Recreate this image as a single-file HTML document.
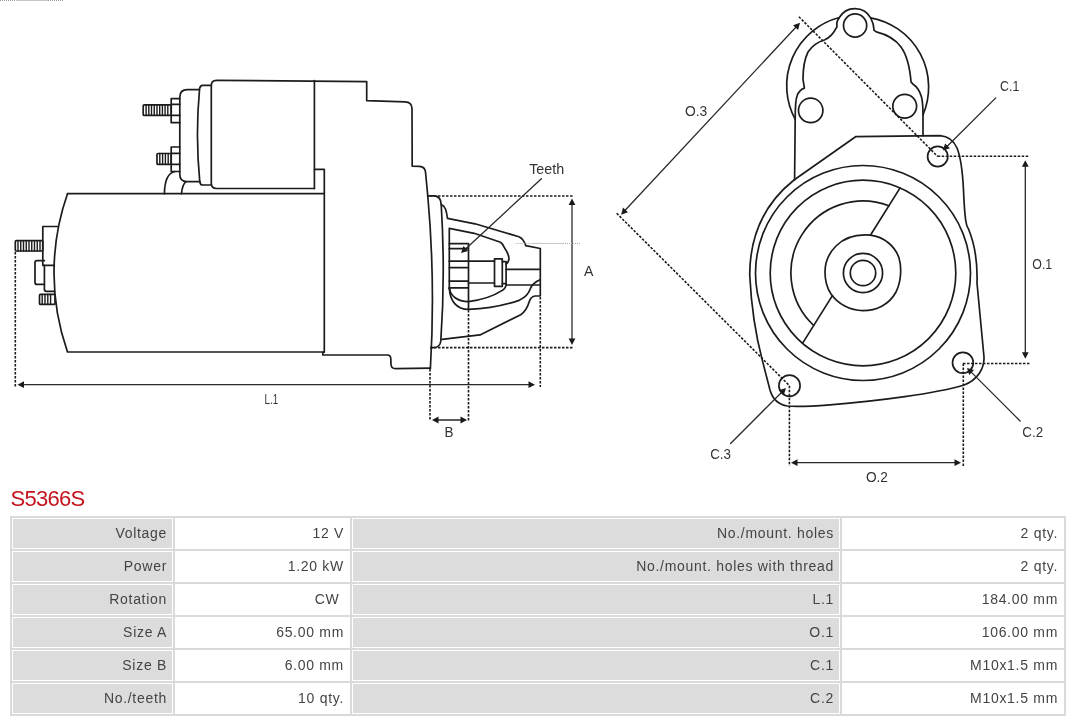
<!DOCTYPE html>
<html><head><meta charset="utf-8">
<style>
html,body{margin:0;padding:0;background:#fff;width:1080px;height:720px;overflow:hidden;position:relative;-webkit-font-smoothing:antialiased;}
body{will-change:transform;font-family:"Liberation Sans",sans-serif;}
svg#d{position:absolute;left:0;top:0;}
.t{position:absolute;left:10.5px;top:487px;font-size:22px;color:#c5141e;letter-spacing:-0.7px;line-height:24px;white-space:nowrap;}
table{position:absolute;left:10px;top:516px;border-collapse:separate;border-spacing:2px;background:#dadada;table-layout:fixed;width:1056px;}
td{border:1px solid #fff;height:29px;padding:0 5px 0 0;text-align:right;font-size:14px;color:#444;white-space:nowrap;box-sizing:content-box;letter-spacing:0.7px;line-height:29px;}
td.l{background:#dcdcdc;}
td.v{background:#fff;}
</style></head><body>
<svg id="d" width="1080" height="720" viewBox="0 0 1080 720">
<g id="fig" fill="none" stroke="#1c1c1c" stroke-width="1.7" stroke-linejoin="round" stroke-linecap="round">
<!-- ===== LEFT FIGURE ===== -->
<!-- motor body -->
<path d="M67.5 193.7 L324.3 193.7"/>
<path d="M67.5 193.7 A238.8 238.8 0 0 0 67.5 352 L324.3 352 L324.3 169.3 L314.4 169.3"/>
<path d="M324.3 352 L322.8 352.6 L322.8 355 L387.5 355 Q390.6 355 390.8 358.5 L391 364.5 Q391.4 368.6 395.5 368.6 L430.4 368.2"/>
<!-- bracket + bolts left -->
<path d="M57.5 226.5 L42.8 226.5 L42.8 265.3 L54.2 265.3"/>
<rect x="15.3" y="240.7" width="27.5" height="10.3" rx="1"/>
<path d="M18 240.7V251M20.75 240.7V251M23.5 240.7V251M26.25 240.7V251M29 240.7V251M31.75 240.7V251M34.5 240.7V251M37.25 240.7V251M40 240.7V251" stroke-width="1.4"/>
<path d="M44.4 260.6 L37 260.6 Q35 260.6 35 262.6 L35 282.4 Q35 284.4 37 284.4 L44.4 284.4"/>
<path d="M44.4 265.3 L44.4 289.3 Q44.4 291.3 46.4 291.3 L54.6 291.3"/>
<rect x="39.5" y="294.4" width="15.5" height="10" rx="1"/>
<path d="M42.2 294.4V304.4M45 294.4V304.4M47.8 294.4V304.4M50.6 294.4V304.4" stroke-width="1.4"/>
<!-- solenoid -->
<path d="M314.4 188.5 L216.5 188.5 Q211.3 188.5 211.3 183.3 L211.3 85.6 Q211.3 80.4 216.5 80.4 L366.7 81.6 L366.7 100.7 L405 101.8 Q411.8 102 412 108.5 L412.2 166.2 L419.5 166.4 Q425 166.8 425.5 172 L427.8 196"/>
<path d="M314.4 80.6 L314.4 188.5"/>
<path d="M211.3 85.4 L202.5 85.4 Q200.2 85.6 199.6 88.5 Q195.2 135 199.8 182 Q200.3 185 202.6 185 L211.3 185"/>
<path d="M199.2 89.6 L187.3 89.6 Q179.8 89.6 179.8 97.1 L179.8 174.6 Q179.8 181.7 186.9 181.7 L200 181.7"/>
<path d="M179.8 98.6 L171.2 98.6 L171.2 122.7 L179.8 122.7 M171.2 104.4 L179.8 104.4 M171.2 115.4 L179.8 115.4"/>
<rect x="143.2" y="104.8" width="28" height="10.6" rx="1"/>
<path d="M146.1 104.8V115.4M148.8 104.8V115.4M151.5 104.8V115.4M154.25 104.8V115.4M157 104.8V115.4M159.7 104.8V115.4M162.4 104.8V115.4M165.1 104.8V115.4M167.8 104.8V115.4" stroke-width="1.4"/>
<path d="M179.8 147 L171.2 147 L171.2 171.5 L179.8 171.5 M171.2 153.3 L179.8 153.3 M171.2 164.4 L179.8 164.4"/>
<rect x="157" y="153.5" width="14.2" height="10.9" rx="1"/>
<path d="M159.8 153.5V164.4M162.6 153.5V164.4M165.4 153.5V164.4M168.2 153.5V164.4" stroke-width="1.4"/>
<path d="M164.4 193.7 C164.6 181 167 173 175 171.5"/>
<path d="M181.5 193.7 C182 188 183 184 186 181.7"/>
<!-- housing right edge -->
<path d="M427.8 196 Q435.5 282 430.4 368.2"/>
<!-- drive flange -->
<path d="M427.6 195.9 L434.5 195.9 Q440.8 196.5 441.2 204.2 Q445.5 275 440.8 341 Q440 347.5 434 347.6 L430.8 347.6"/>
<!-- nose outer -->
<path d="M441.2 204.5 Q444 205.5 445.5 209 Q446.8 213 447.5 218.3 L475 223.8 L518.9 236.7 Q523.5 238.5 525.8 245.7 L540.3 248.5 L540.3 295.8 L535.2 296 Q531 296.5 529.5 301 Q526.5 311 520.7 314.7 L480 334.9 L442 339.4"/>
<!-- nose inner -->
<path d="M449.3 289 L449.3 228.3 L474.2 233.3 L500.5 242.2 Q502.5 243.5 504 247 Q508.8 254 509 258.5 Q509 262 506.1 264"/>
<path d="M449.4 288 C449.6 301, 457 309.4, 468.5 309.4 C490 308.5, 506 305, 519.7 300.1 Q528 296 530.4 288.5 Q532.5 283 540.1 279.7"/>
<path d="M449.4 288 C450.5 296, 457 301.6, 468.5 301.6 C485 299.5, 496 294.5, 502.2 290.4 Q506.1 288.5 506.1 283.6"/>
<!-- pinion -->
<path d="M449.3 243.7 L468.5 243.7 L468.5 309.2 M449.3 248.7 L468.5 248.7 M449.3 261.2 L468.5 261.2 M449.3 267.6 L468.5 267.6 M449.3 281.2 L468.5 281.2 M449.3 287.9 L468.5 287.9"/>
<path d="M468.5 261.2 L494.5 261.2 M468.5 283 L494.5 283"/>
<rect x="494.5" y="258.9" width="7.8" height="27.4"/>
<path d="M502.3 261.7 L506.1 261.7 L506.1 283.6 L502.3 283.6"/>
<path d="M506.1 269.3 L540.3 269.3 M506.1 285 L540.3 285"/>
<!-- ===== DIMENSIONS LEFT ===== -->
<g stroke-width="1.6" stroke-dasharray="2.5 1.5" stroke-linecap="butt">
<path d="M15.3 252 V387"/>
<path d="M540.3 297 V387"/>
<path d="M430 196 H573"/>
<path d="M430 347.6 H573"/>
<path d="M430 369 V421"/>
<path d="M468.5 310 V421"/>
</g>
<g stroke-width="1.3" stroke="#2a2a2a">
<path d="M22 384.7 H530"/>
<path d="M572 203 V342"/>
<path d="M437 420 H463"/>
<path d="M541.4 178.8 L465 249.5"/>
</g>
<path d="M17.5 384.7 L24.0 381.3 L24.0 388.1z M535.0 384.7 L528.5 388.1 L528.5 381.3z M572.0 198.6 L575.4 205.1 L568.6 205.1z M572.0 345.0 L568.6 338.5 L575.4 338.5z M432.0 420.0 L438.5 416.6 L438.5 423.4z M467.0 420.0 L460.5 423.4 L460.5 416.6z M461.0 253.0 L463.5 246.1 L468.1 251.1z" fill="#1a1a1a" stroke="none"/>
<path d="M515.7 243.4 H532 M563 243.4 H580.5" stroke="#aaa" stroke-width="1" stroke-dasharray="1 1" stroke-linecap="butt"/>
<path d="M532 243.4 H563" stroke="#c2c2c2" stroke-width="1" stroke-linecap="butt"/>
<!-- ===== RIGHT FIGURE ===== -->
<!-- rear cover outer arc + lug -->
<path d="M794.6 180 L795.2 119.3 A70.5 70.5 0 0 1 839.3 17.5 A18.1 18.1 0 0 1 870.7 17.8 A70.5 70.5 0 0 1 923 114.8 L923 135.6"/>
<circle cx="855.1" cy="25.5" r="11.6"/>
<circle cx="810.7" cy="110.4" r="12.2"/>
<circle cx="904.7" cy="106.2" r="11.9"/>
<!-- inner profile -->
<path d="M839.3 17.8 Q836 22 837 26.7 Q832 37 824.4 40 Q814 43 808 52 Q803 62 803 79.3 L804.4 88.1 Q799 90 797 96 Q795.2 101 795.2 119.3"/>
<path d="M870.7 17.8 Q874 24 874.1 30.4 L876.3 31.9 Q893 36 901 47 Q909 58 911.1 82.2 L912.6 83.7 Q919 88 921.5 97 Q923 103 923 115"/>
<!-- flange outline -->
<path d="M855.6 136.7 L940 135.6 Q952 136.5 957 148 Q962 160 963.5 190 Q964.5 214 966 222 Q966.5 226 968.5 229 Q978 252 977 283 L984 357 C984.5 368, 978 380, 963.5 385.3 C935 393.5, 880 401, 830 404.8 C810 406.3, 797 406.8, 787.5 406 Q774 404 770 390 L762.6 361.4 Q752 322 749.7 274.6 Q750 215 794 180 L855.6 136.7"/>
<circle cx="937.7" cy="156.5" r="10.1"/>
<circle cx="962.9" cy="362.7" r="10.4"/>
<circle cx="789.5" cy="385.7" r="10.6"/>
<!-- concentric -->
<circle cx="863" cy="273" r="107.5"/>
<circle cx="863" cy="273" r="92.8"/>
<path d="M888.9 205.8 A72 72 0 0 0 813.7 325.5"/>
<path d="M900.1 187.9 L870.4 235.2 M832.4 295.6 L802.5 343.4"/>
<path d="M870.4 235.2 C884 237, 895 246, 899 258 C902 268, 901 282, 896 292 C889 305, 876 310.6, 863 310.6 C850 310.6, 838 304, 831 294 C827 288, 825 280, 825 272 C825 262, 829 253, 836 246 C844 238, 856 234, 870.4 235.2"/>
<circle cx="863" cy="273" r="19.6"/>
<circle cx="863" cy="273" r="12.7"/>
<!-- ===== DIMENSIONS RIGHT ===== -->
<g stroke-width="1.6" stroke-dasharray="2.5 1.5" stroke-linecap="butt">
<path d="M798.9 16.7 L937.7 156.5"/>
<path d="M616.7 213.3 L789.5 385.7"/>
<path d="M937.7 156.3 H1029.5"/>
<path d="M963 363.5 H1029.5"/>
<path d="M963.3 363.5 V466"/>
<path d="M789.4 385.7 V466"/>
</g>
<g stroke-width="1.3" stroke="#2a2a2a">
<path d="M624 211.5 L797.5 25.5"/>
<path d="M1025.3 165 V354"/>
<path d="M795 462.7 H957"/>
<path d="M995.8 97.9 L946 147.5"/>
<path d="M1020.1 421 L970.5 371.4"/>
<path d="M730.6 443.5 L782.5 391.5"/>
</g>
<path d="M621.1 214.7 L623.0 207.6 L628.0 212.3z M800.0 22.8 L798.1 29.9 L793.1 25.2z M1025.3 160.2 L1028.7 166.7 L1021.9 166.7z M1025.3 358.8 L1021.9 352.3 L1028.7 352.3z M791.0 462.7 L797.5 459.3 L797.5 466.1z M961.0 462.7 L954.5 466.1 L954.5 459.3z M942.9 150.5 L945.1 143.5 L949.9 148.3z M967.0 367.9 L974.0 370.1 L969.2 374.9z M786.0 388.0 L783.8 395.0 L779.0 390.2z" fill="#1a1a1a" stroke="none"/>
</g>
<g font-family="Liberation Sans, sans-serif" fill="#333" stroke="none" font-size="14.6">
<text x="529.2" y="173.8" textLength="35" lengthAdjust="spacingAndGlyphs">Teeth</text>
<text x="584" y="275.5" textLength="9.4" lengthAdjust="spacingAndGlyphs">A</text>
<text x="264.6" y="403.8" textLength="13.6" lengthAdjust="spacingAndGlyphs">L.1</text>
<text x="444.5" y="437" textLength="9" lengthAdjust="spacingAndGlyphs">B</text>
<text x="685" y="115.6" textLength="22.3" lengthAdjust="spacingAndGlyphs">O.3</text>
<text x="1000.1" y="91.2" textLength="19.2" lengthAdjust="spacingAndGlyphs">C.1</text>
<text x="1032.3" y="269.3" textLength="19.9" lengthAdjust="spacingAndGlyphs">O.1</text>
<text x="1022.3" y="436.9" textLength="20.8" lengthAdjust="spacingAndGlyphs">C.2</text>
<text x="710.2" y="459" textLength="20.8" lengthAdjust="spacingAndGlyphs">C.3</text>
<text x="865.9" y="481.6" textLength="22.1" lengthAdjust="spacingAndGlyphs">O.2</text>
</g>

</svg>
<div class="art" style="position:absolute;left:0;top:0;width:16px;height:1px;background:repeating-linear-gradient(90deg,#999 0 1px,#fff 1px 2px);"></div><div class="art" style="position:absolute;left:16px;top:0;width:32px;height:1px;background:#c9c4bf;"></div><div class="art" style="position:absolute;left:48px;top:0;width:16px;height:1px;background:repeating-linear-gradient(90deg,#999 0 1px,#fff 1px 2px);"></div>
<div class="t">S5366S</div>
<table>
<colgroup><col style="width:161px"><col style="width:175px"><col style="width:488px"><col style="width:222px"></colgroup>
<tr><td class="l">Voltage</td><td class="v">12 V</td><td class="l">No./mount. holes</td><td class="v">2 qty.</td></tr>
<tr><td class="l">Power</td><td class="v">1.20 kW</td><td class="l">No./mount. holes with thread</td><td class="v">2 qty.</td></tr>
<tr><td class="l">Rotation</td><td class="v">CW&nbsp;</td><td class="l">L.1</td><td class="v">184.00 mm</td></tr>
<tr><td class="l">Size A</td><td class="v">65.00 mm</td><td class="l">O.1</td><td class="v">106.00 mm</td></tr>
<tr><td class="l">Size B</td><td class="v">6.00 mm</td><td class="l">C.1</td><td class="v">M10x1.5 mm</td></tr>
<tr><td class="l">No./teeth</td><td class="v">10 qty.</td><td class="l">C.2</td><td class="v">M10x1.5 mm</td></tr>
</table>
</body></html>
